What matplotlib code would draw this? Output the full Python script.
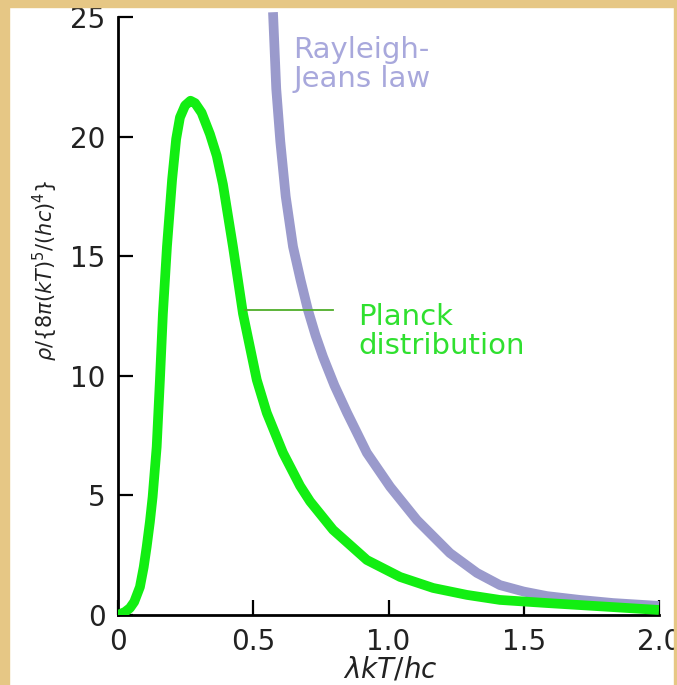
import matplotlib
matplotlib.use('Agg')
import matplotlib.pyplot as plt
from matplotlib.patches import Rectangle

# values
planck_x = [0, 0.026, 0.044, 0.060, 0.081, 0.095, 0.106, 0.118, 0.128, 0.143,
            0.155, 0.166, 0.181, 0.200, 0.215, 0.229, 0.248, 0.268, 0.285, 0.309,
            0.340, 0.365, 0.388, 0.425, 0.462, 0.513, 0.550, 0.610, 0.673, 0.710,
            0.795, 0.920, 1.043, 1.165, 1.290, 1.412, 1.586, 1.830, 2.0]
planck_y = [0, 0.13, 0.29, 0.55, 1.17, 2.0, 2.85, 3.9, 4.94, 7.03,
            9.83, 12.6, 15.4, 18.2, 19.9, 20.8, 21.3, 21.5, 21.4, 21.0,
            20.1, 19.2, 18.0, 15.4, 12.6, 9.83, 8.45, 6.78, 5.4, 4.75,
            3.56, 2.30, 1.59, 1.13, 0.84, 0.63, 0.50, 0.33, 0.21]

rj_x = [0.573, 0.585, 0.600, 0.620, 0.647, 0.675, 0.702, 0.730, 0.758, 0.800,
        0.847, 0.920, 1.006, 1.105, 1.227, 1.327, 1.412, 1.500, 1.586, 1.708,
        1.830, 2.0]
rj_y = [25.2, 22.0, 19.8, 17.5, 15.4, 14.0, 12.76, 11.7, 10.79, 9.6,
        8.45, 6.78, 5.36, 3.97, 2.59, 1.76, 1.25, 0.98, 0.79, 0.63,
        0.50, 0.38]

xticks = [0, 0.5, 1.0, 1.5, 2.0]
xticklabels = ['0', '0.5', '1.0', '1.5', '2.0']
yticks = [0, 5, 10, 15, 20, 25]

W, H = 677, 685
fig = plt.figure(figsize=(W / 100, H / 100), dpi=100, facecolor='white')
ax = fig.add_axes([118 / W, 1 - 615 / H, 541 / W, 598 / H])
ax.set_facecolor('white')

green = '#12ee12'
lav = '#9a9acc'

ax.plot(rj_x, rj_y, color=lav, lw=7, solid_capstyle='butt', solid_joinstyle='round',
        clip_on=False, zorder=2)
ax.plot(planck_x, planck_y, color=green, lw=7, solid_capstyle='butt',
        solid_joinstyle='round', zorder=3)
ax.plot([0.47, 0.795], [12.76, 12.76], color='#4fae2a', lw=1.3, zorder=4)

ax.text(0.887, 11.85, 'Planck\ndistribution', color='#2fe02f', fontsize=21,
        va='center', ha='left', linespacing=1.05)
ax.text(0.647, 23.0, 'Rayleigh-\nJeans law', color='#a8a8dc', fontsize=21,
        va='center', ha='left', linespacing=1.05)

ax.set_xlim(0, 2)
ax.set_ylim(0, 25)
ax.set_xticks(xticks)
ax.set_xticklabels(xticklabels)
ax.set_yticks(yticks)
for s in ['top', 'right']:
    ax.spines[s].set_visible(False)
for s in ['left', 'bottom']:
    ax.spines[s].set_linewidth(2)
ax.tick_params(direction='in', length=11, width=1.6, labelsize=20, pad=9,
               colors='black', labelcolor='#222222')

fig.text(45 / W, 1 - 270 / H, r'$\rho/\{8\pi(kT)^5/(hc)^4\}$', rotation=90,
         fontsize=15, ha='center', va='center', color='#222222')
fig.text(390 / W, 2 / H, r'$\lambda kT/hc$', fontsize=20,
         ha='center', va='bottom', color='#222222')

# tan frame drawn on top
tan = '#e6c785'
for x0, y0, w, h in [(0, 0, 9, H), (0, 0, W, 7), (674, 0, 3, H)]:
    fig.add_artist(Rectangle((x0 / W, 1 - (y0 + h) / H), w / W, h / H,
                             transform=fig.transFigure, color=tan, zorder=10))

fig.savefig('out.png', dpi=100, facecolor='white')
